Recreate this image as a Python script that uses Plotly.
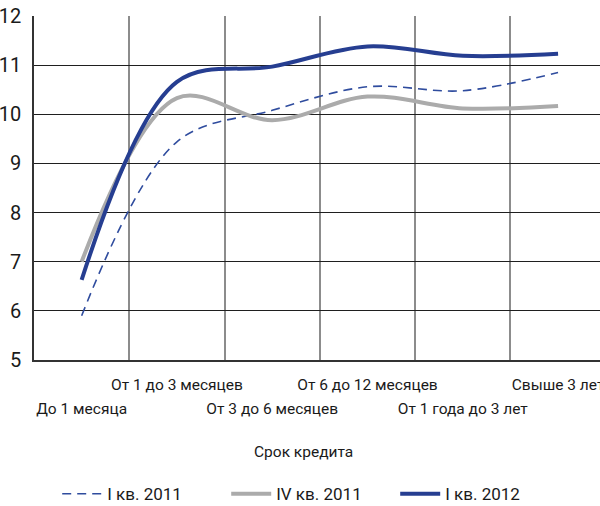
import plotly.graph_objects as go

# Loan term categories (x axis) and average rates, % per annum
categories = ["До 1 месяца", "От 1 до 3 месяцев", "От 3 до 6 месяцев",
              "От 6 до 12 месяцев", "От 1 года до 3 лет", "Свыше 3 лет"]
q1_2011 = [5.9, 9.44, 10.08, 10.56, 10.48, 10.85]
q4_2011 = [7.0, 10.33, 9.88, 10.36, 10.12, 10.17]
q1_2012 = [6.63, 10.66, 10.97, 11.38, 11.19, 11.23]

series_names = ["I кв. 2011", "IV кв. 2011", "I кв. 2012"]
y_ticks = [5, 6, 7, 8, 9, 10, 11, 12]

FONT = "Roboto, 'Liberation Sans Narrow', sans-serif"
NAVY = "#263e91"
GREY = "#ababab"
DASH_BLUE = "#2f4c9e"
TEXT = "#1a1a1a"

x = list(range(len(categories)))

fig = go.Figure()
fig.add_trace(go.Scatter(
    x=x, y=q1_2011, name=series_names[0], mode="lines",
    line=dict(color=DASH_BLUE, width=1.6, dash="9px,6px", shape="spline"),
))
fig.add_trace(go.Scatter(
    x=x, y=q4_2011, name=series_names[1], mode="lines",
    line=dict(color=GREY, width=4, shape="spline"),
))
# the 2012 line sits on the overlaying x axis (same range), which carries
# the second row of category labels and draws on top of the other lines
fig.add_trace(go.Scatter(
    x=x, y=q1_2012, name=series_names[2], mode="lines", xaxis="x2",
    line=dict(color=NAVY, width=4, shape="spline"),
))

x_range = [-0.5, 5.44]
upper_idx = [i for i in x if i % 2 == 1]
lower_idx = [i for i in x if i % 2 == 0]

fig.update_layout(
    width=600, height=506,
    margin=dict(l=34, r=0, t=16, b=146, autoexpand=False),
    paper_bgcolor="white", plot_bgcolor="white",
    font=dict(family=FONT, color=TEXT, size=16),
    showlegend=True,
    legend=dict(
        orientation="h", x=0.041, xanchor="left", y=-0.39, yanchor="middle",
        font=dict(size=17, family=FONT, color=TEXT),
        entrywidth=114, entrywidthmode="pixels",
        itemwidth=40,
    ),
    xaxis=dict(
        range=x_range, tickmode="array",
        tickvals=upper_idx, ticktext=[categories[i] for i in upper_idx],
        tickfont=dict(size=15.5, family=FONT, color=TEXT),
        ticks="", ticklabelstandoff=10, ticklabeloverflow="allow",
        automargin=False,
        showgrid=False, zeroline=False,
        showline=True, linecolor="#333333", linewidth=1.5,
        minor=dict(tickvals=[i + 0.5 for i in x[:-1]], showgrid=True,
                   gridcolor="#8c8c8c", gridwidth=1.5, ticks=""),
    ),
    xaxis2=dict(
        range=x_range, overlaying="x", anchor="y", side="bottom",
        tickmode="array",
        tickvals=lower_idx, ticktext=[categories[i] for i in lower_idx],
        tickfont=dict(size=15.5, family=FONT, color=TEXT),
        ticks="", ticklabelstandoff=37, ticklabeloverflow="allow",
        automargin=False,
        showgrid=False, zeroline=False, showline=False,
    ),
    yaxis=dict(
        range=[5, 12], tickmode="array", tickvals=y_ticks,
        tickfont=dict(size=20, family=FONT, color=TEXT),
        ticks="", ticklabelstandoff=7, automargin=False,
        showgrid=True, gridcolor="#1f1f1f", gridwidth=1,
        zeroline=False,
        showline=True, linecolor="#333333", linewidth=1.5,
    ),
    annotations=[dict(
        text="Срок кредита", xref="paper", yref="paper",
        x=0.476, y=-0.267, xanchor="center", yanchor="middle",
        showarrow=False, font=dict(size=15.5, family=FONT, color=TEXT),
    )],
)

fig.write_html("out.html")
